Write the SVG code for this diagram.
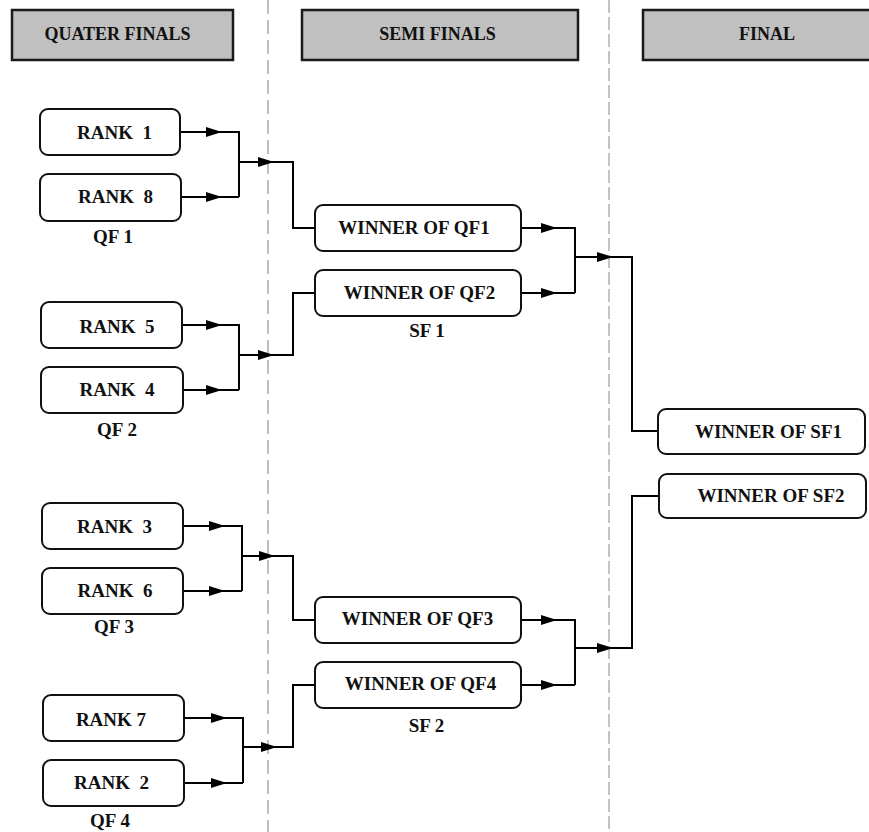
<svg xmlns="http://www.w3.org/2000/svg" width="869" height="832" viewBox="0 0 869 832">
<style>
.hdr{fill:#c0c0c0;stroke:#1a1a1a;stroke-width:2.5}
.box{fill:#fff;stroke:#111;stroke-width:2}
text{font-family:'Liberation Serif','Times New Roman',Times,serif;font-weight:bold;font-size:19px;fill:#111;text-anchor:middle}
.h{font-size:18px}
.c{fill:none;stroke:#000;stroke-width:2}
.sep1{stroke:#aaa;stroke-width:1.5;stroke-dasharray:14 6}
.sep2{stroke:#888;stroke-width:1;stroke-dasharray:13 4}
</style>
<defs>
<marker id="ah" viewBox="0 0 16 10" refX="16" refY="5" markerWidth="16" markerHeight="10" markerUnits="userSpaceOnUse" orient="auto">
<path d="M0,0 L16,5 L0,10 z" fill="#000"/>
</marker>
</defs>
<rect width="869" height="832" fill="#fff"/>
<g id="separators">
<line class="sep1" x1="268" y1="0" x2="268" y2="832"/>
<line class="sep2" x1="609" y1="0" x2="609" y2="832"/>
</g>
<g font-family="Liberation Serif, serif">
<g id="hdr-qf"><rect class="hdr" x="12" y="10" width="221" height="50"/><text class="h" x="117.5" y="40">QUATER FINALS</text></g>
<g id="hdr-sf"><rect class="hdr" x="302" y="10" width="276" height="50"/><text class="h" x="437.5" y="40">SEMI FINALS</text></g>
<g id="hdr-f"><rect class="hdr" x="643" y="10" width="232" height="50"/><text class="h" x="767" y="40">FINAL</text></g>
</g>

<g id="connectors">
<path class="c" d="M180,132 H222" marker-end="url(#ah)"/><path class="c" d="M222,132 H239 V197"/>
<path class="c" d="M181,197 H222" marker-end="url(#ah)"/><path class="c" d="M222,197 H239"/>
<path class="c" d="M239,162 H274" marker-end="url(#ah)"/><path class="c" d="M274,162 H293 V228 H315"/>
<path class="c" d="M182,325 H222" marker-end="url(#ah)"/><path class="c" d="M222,325 H239 V390"/>
<path class="c" d="M183,390 H222" marker-end="url(#ah)"/><path class="c" d="M222,390 H239"/>
<path class="c" d="M239,355 H274" marker-end="url(#ah)"/><path class="c" d="M274,355 H293 V293 H315"/>
<path class="c" d="M183,526 H225" marker-end="url(#ah)"/><path class="c" d="M225,526 H242 V591"/>
<path class="c" d="M183,591 H225" marker-end="url(#ah)"/><path class="c" d="M225,591 H242"/>
<path class="c" d="M242,556 H275" marker-end="url(#ah)"/><path class="c" d="M275,556 H293 V620 H315"/>
<path class="c" d="M184,718 H227" marker-end="url(#ah)"/><path class="c" d="M227,718 H243 V783"/>
<path class="c" d="M184,783 H227" marker-end="url(#ah)"/><path class="c" d="M227,783 H243"/>
<path class="c" d="M243,747 H277" marker-end="url(#ah)"/><path class="c" d="M277,747 H293 V685 H315"/>
<path class="c" d="M521,228 H557" marker-end="url(#ah)"/><path class="c" d="M557,228 H575 V293"/>
<path class="c" d="M521,293 H557" marker-end="url(#ah)"/><path class="c" d="M557,293 H575"/>
<path class="c" d="M575,257 H613" marker-end="url(#ah)"/><path class="c" d="M613,257 H632 V431 H658"/>
<path class="c" d="M521,620 H557" marker-end="url(#ah)"/><path class="c" d="M557,620 H575 V685"/>
<path class="c" d="M521,685 H557" marker-end="url(#ah)"/><path class="c" d="M557,685 H575"/>
<path class="c" d="M575,648 H613" marker-end="url(#ah)"/><path class="c" d="M613,648 H632 V496 H659"/>
</g>

<g font-family="Liberation Serif, serif">
<g id="rank1"><rect class="box" x="40" y="109" width="140" height="46" rx="8"/><text x="114.5" y="139" xml:space="preserve">RANK  1</text></g>
<g id="rank8"><rect class="box" x="40" y="174" width="141" height="47" rx="8"/><text x="115.5" y="203" xml:space="preserve">RANK  8</text></g>
<g id="qf1"><text x="113" y="243">QF 1</text></g>
<g id="rank5"><rect class="box" x="41" y="302" width="141" height="46" rx="8"/><text x="117" y="333" xml:space="preserve">RANK  5</text></g>
<g id="rank4"><rect class="box" x="41" y="367" width="142" height="46" rx="8"/><text x="117" y="396" xml:space="preserve">RANK  4</text></g>
<g id="qf2"><text x="117" y="436">QF 2</text></g>
<g id="rank3"><rect class="box" x="42" y="503" width="141" height="46" rx="8"/><text x="114.5" y="533" xml:space="preserve">RANK  3</text></g>
<g id="rank6"><rect class="box" x="42" y="568" width="141" height="46" rx="8"/><text x="115" y="597" xml:space="preserve">RANK  6</text></g>
<g id="qf3"><text x="114" y="633">QF 3</text></g>
<g id="rank7"><rect class="box" x="43" y="695" width="141" height="46" rx="8"/><text x="111" y="726">RANK 7</text></g>
<g id="rank2"><rect class="box" x="43" y="760" width="141" height="46" rx="8"/><text x="111.5" y="789" xml:space="preserve">RANK  2</text></g>
<g id="qf4"><text x="110" y="827">QF 4</text></g>
<g id="wqf1"><rect class="box" x="315" y="205" width="206" height="46" rx="8"/><text x="414" y="234">WINNER OF QF1</text></g>
<g id="wqf2"><rect class="box" x="315" y="270" width="206" height="46" rx="8"/><text x="419.5" y="299">WINNER OF QF2</text></g>
<g id="sf1"><text x="427" y="337">SF 1</text></g>
<g id="wqf3"><rect class="box" x="315" y="597" width="206" height="46" rx="8"/><text x="417.5" y="625">WINNER OF QF3</text></g>
<g id="wqf4"><rect class="box" x="315" y="662" width="206" height="46" rx="8"/><text x="420.5" y="690">WINNER OF QF4</text></g>
<g id="sf2"><text x="426.5" y="732">SF 2</text></g>
<g id="wsf1"><rect class="box" x="658" y="409" width="207" height="45" rx="8"/><text x="768.5" y="438">WINNER OF SF1</text></g>
<g id="wsf2"><rect class="box" x="659" y="474" width="207" height="44" rx="8"/><text x="771" y="502">WINNER OF SF2</text></g>
</g>
</svg>
